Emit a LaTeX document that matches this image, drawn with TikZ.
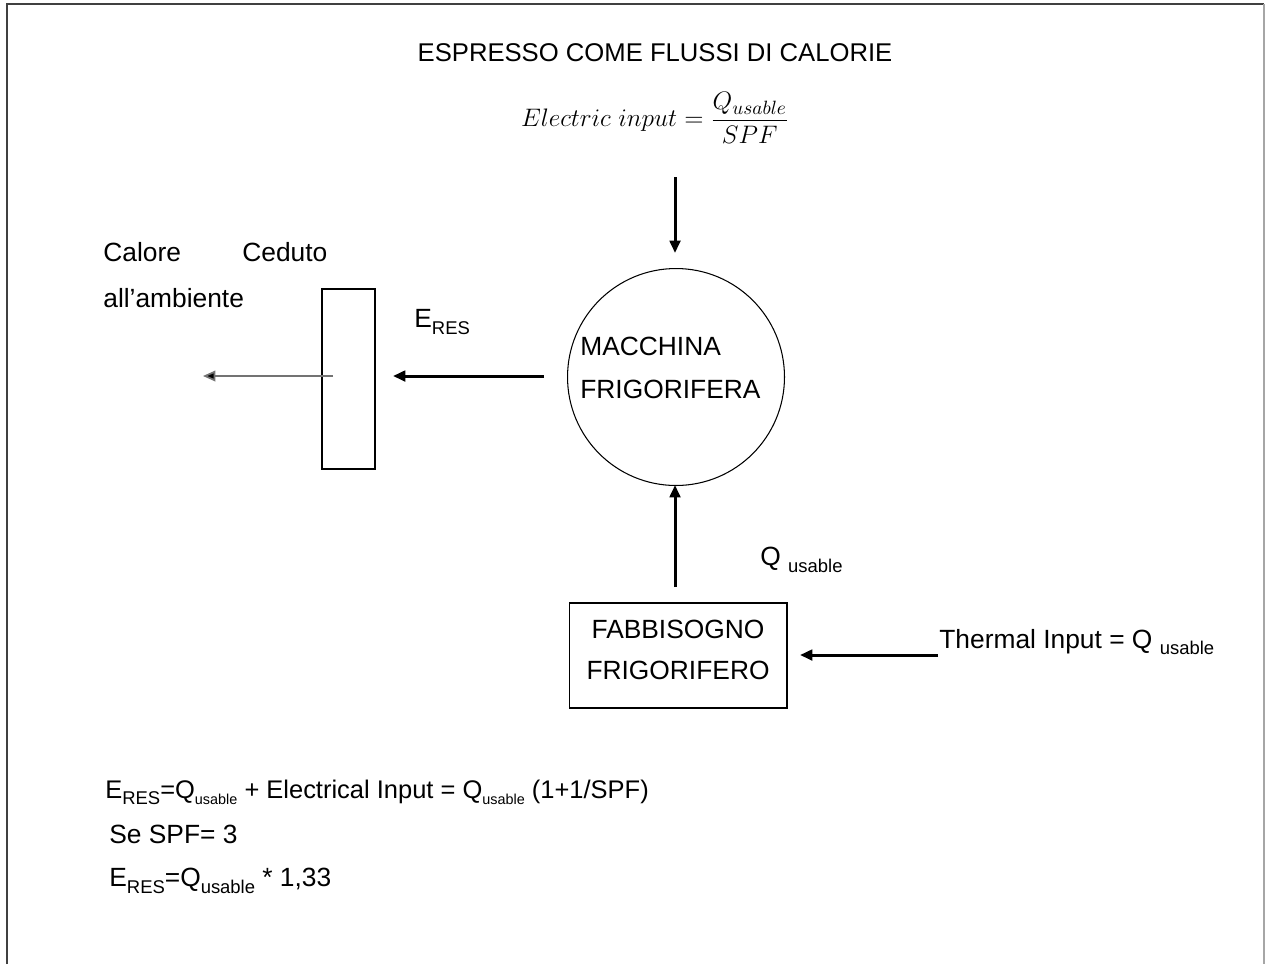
\documentclass[tikz,border=0pt]{standalone}
\usepackage{amsmath}
\usepackage{fontspec}
\setmainfont{Liberation Sans}
\usetikzlibrary{arrows.meta}
\newcommand\lsub[1]{\raisebox{-0.45ex}{\fontsize{10.5}{11}\selectfont #1}}
\newcommand\ssub[1]{\raisebox{-0.45ex}{\fontsize{8.2}{9}\selectfont #1}}
\tikzset{
  lbl/.style={inner sep=0pt, font=\fontsize{15}{17}\selectfont},
  flow/.style={line width=1.7pt, -{Triangle[length=7pt,width=6pt]}},
  thinflow/.style={line width=1pt, draw=black!55, -{Triangle[length=7pt,width=6pt,fill=black]}},
  outline/.style={draw, line width=0.6pt},
}
\begin{document}
\begin{tikzpicture}[x=0.02cm,y=-0.02cm]
\useasboundingbox (0,0) rectangle (1266,964);
% frame
\draw[line width=1.2pt, black!75] (7,964) -- (7,4) -- (1264,4);
\draw[line width=0.8pt, black!35] (1264,4) -- (1264,964);

% title and formula
\node[lbl, font=\fontsize{14.6}{17}\selectfont] (title) at (655,53) {ESPRESSO COME FLUSSI DI CALORIE};
\node[inner sep=0pt, font=\fontsize{15.6}{18}\selectfont] (formula) at (655,118)
  {$Electric\ input=\dfrac{Q_{usable}}{SPF}$};

% machine
\node[circle, outline, inner sep=0pt, minimum size=4.34cm] (mac) at (676,377) {};
\node[lbl, align=left, anchor=west, font=\fontsize{15}{24.4}\selectfont] (mactxt) at (580,368) {MACCHINA\\FRIGORIFERA};

% exchanger rectangle
\node[outline, minimum width=1.06cm, minimum height=3.6cm, inner sep=0pt] (exch) at (348.5,379) {};

% need box
\node[outline, minimum width=4.36cm, minimum height=2.1cm, inner sep=0pt] (need) at (678,655.5) {};
\node[lbl, align=center, font=\fontsize{15}{23.3}\selectfont] (needtxt) at (678,650) {FABBISOGNO\\FRIGORIFERO};

% coordinates for connector ends
\coordinate (elTop) at (675,177);
\coordinate (elEnd) at (675,253);
\coordinate (resStart) at (544,376);
\coordinate (resEnd) at (393,376);
\coordinate (outStart) at (333,376);
\coordinate (outEnd) at (203,376);
\coordinate (qStart) at (675,587);
\coordinate (qEnd) at (675,485);
\coordinate (thStart) at (938,655);
\coordinate (thEnd) at (800,655);

\draw[flow] (elTop) -- (elEnd);
\draw[flow] (resStart) -- (resEnd);
\draw[thinflow] (outStart) -- (outEnd);
\draw[flow] (qStart) -- (qEnd);
\draw[flow] (thStart) -- (thEnd);

% labels
\node[lbl, anchor=west] (calore) at (103,252) {Calore};
\node[lbl, anchor=west] (ceduto) at (242,252) {Ceduto};
\node[lbl, anchor=west] (ambiente) at (103,298) {all’ambiente};
\node[lbl, anchor=west] (eres) at (414,322) {E\lsub{RES}};
\node[lbl, anchor=west] (qus) at (760,560) {Q \lsub{usable}};
\node[lbl, anchor=west] (thermal) at (939,642) {Thermal Input = Q \lsub{usable}};

% bottom equations
\node[lbl, anchor=west, font=\fontsize{14.5}{17}\selectfont] (eq1) at (105,792) {E\lsub{RES}=Q\ssub{usable} + Electrical Input = Q\ssub{usable} (1+1/SPF)};
\node[lbl, anchor=west] (eq2) at (109,834) {Se SPF= 3};
\node[lbl, anchor=west] (eq3) at (109,881) {E\lsub{RES}=Q\lsub{usable} * 1,33};
\end{tikzpicture}
\end{document}
